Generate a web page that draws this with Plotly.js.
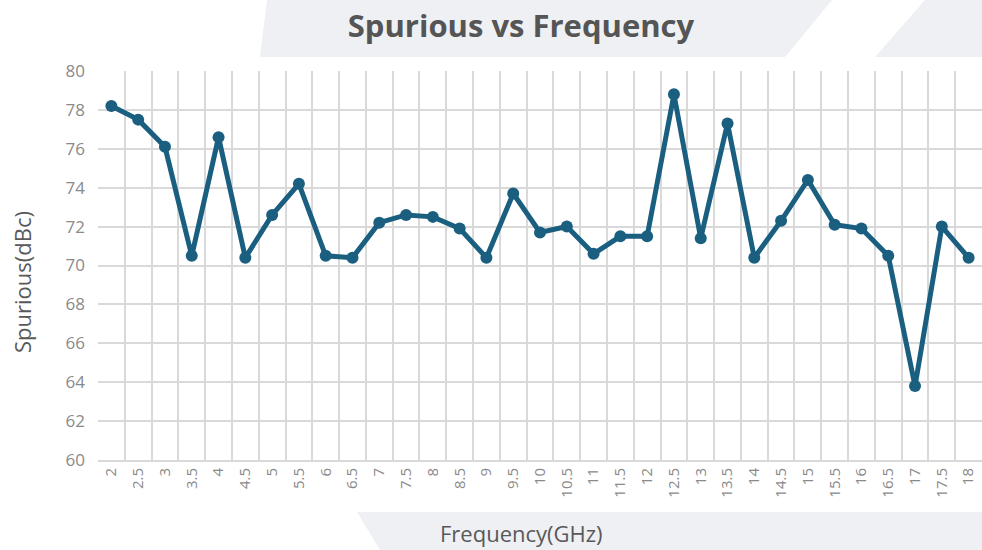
<!DOCTYPE html>
<html>
<head>
<meta charset="utf-8">
<script src="https://cdn.plot.ly/plotly-3.0.1.min.js"></script>
<style>
  html, body { margin: 0; padding: 0; background: #ffffff; }
  #chart { width: 982px; height: 550px; }
</style>
</head>
<body>
<div id="chart"></div>
<script>
// ---- Data ----
const frequencies = ["2","2.5","3","3.5","4","4.5","5","5.5","6","6.5","7","7.5","8","8.5","9","9.5","10","10.5","11","11.5","12","12.5","13","13.5","14","14.5","15","15.5","16","16.5","17","17.5","18"];
const spurious = [78.2,77.5,76.1,70.5,76.6,70.4,72.6,74.2,70.5,70.4,72.2,72.6,72.5,71.9,70.4,73.7,71.7,72.0,70.6,71.5,71.5,78.8,71.4,77.3,70.4,72.3,74.4,72.1,71.9,70.5,63.8,72.0,70.4];
const yTicks = [60,62,64,66,68,70,72,74,76,78,80];
const titleText = 'Spurious vs Frequency';
const xTitleText = 'Frequency(GHz)';
const yTitleText = 'Spurious(dBc)';

// ---- Layout helpers (pixel -> paper coords for decorations) ----
const W = 982, H = 550;
const M = { l: 98, r: 0, t: 71, b: 90 };
const pw = W - M.l - M.r, ph = H - M.t - M.b;
function px(x) { return (x - M.l) / pw; }
function py(y) { return (H - M.b - y) / ph; }
function poly(pts) {
  return pts.map((p, i) => (i ? 'L' : 'M') + px(p[0]).toFixed(5) + ',' + py(p[1]).toFixed(5)).join(' ') + ' Z';
}
const bandColor = '#eff0f4';
const shapes = [
  { type: 'path', xref: 'paper', yref: 'paper', layer: 'below', line: { width: 0 }, fillcolor: bandColor,
    path: poly([[267,0],[982,0],[982,57],[260,57]]) },
  { type: 'path', xref: 'paper', yref: 'paper', layer: 'below', line: { width: 0 }, fillcolor: '#ffffff',
    path: poly([[832,0],[925,0],[875,57],[785,57]]) },
  { type: 'path', xref: 'paper', yref: 'paper', layer: 'below', line: { width: 0 }, fillcolor: bandColor,
    path: poly([[357,512],[982,512],[982,550],[380,550]]) }
];

const axisTitleFont = { family: 'Open Sans, sans-serif', size: 22, color: '#595959' };
const annotations = [
  { text: xTitleText, xref: 'paper', yref: 'paper', x: px(521), y: py(533),
    xanchor: 'center', yanchor: 'middle', showarrow: false, borderpad: 0, font: axisTitleFont },
  { text: yTitleText, xref: 'paper', yref: 'paper', x: px(22), y: py(282),
    xanchor: 'center', yanchor: 'middle', showarrow: false, borderpad: 0, textangle: -90, font: axisTitleFont }
];

const trace = {
  type: 'scatter',
  mode: 'lines+markers',
  x: frequencies,
  y: spurious,
  line: { color: '#1a5e80', width: 5 },
  marker: { color: '#1a5e80', size: 12 },
  hoverinfo: 'x+y'
};

const layout = {
  width: W, height: H,
  margin: M,
  paper_bgcolor: '#ffffff',
  plot_bgcolor: 'rgba(0,0,0,0)',
  showlegend: false,
  shapes: shapes,
  annotations: annotations,
  title: {
    text: '<b>' + titleText + '</b>',
    font: { family: 'Open Sans, sans-serif', size: 31, color: '#555555' },
    x: 521 / W, xref: 'container', xanchor: 'center',
    y: 1 - 26 / H, yref: 'container', yanchor: 'middle'
  },
  xaxis: {
    type: 'category',
    categoryorder: 'array',
    categoryarray: frequencies,
    range: [-0.5, frequencies.length - 0.5],
    tickson: 'boundaries',
    ticks: '',
    tickangle: -90,
    showgrid: true,
    gridcolor: '#d9d9d9',
    gridwidth: 2,
    showline: true,
    linecolor: '#d9d9d9',
    linewidth: 2,
    zeroline: false,
    tickfont: { family: 'Open Sans, sans-serif', size: 15, color: '#8a8a8a' },
    automargin: false
  },
  yaxis: {
    range: [60, 80],
    tickvals: yTicks,
    ticktext: yTicks.map(String),
    ticks: '',
    showgrid: true,
    gridcolor: '#d9d9d9',
    gridwidth: 2,
    showline: false,
    zeroline: false,
    ticklabelstandoff: 12,
    tickfont: { family: 'Open Sans, sans-serif', size: 17, color: '#8a8a8a' },
    automargin: false
  }
};

Plotly.newPlot('chart', [trace], layout, { displayModeBar: false, staticPlot: true });
</script>
</body>
</html>
